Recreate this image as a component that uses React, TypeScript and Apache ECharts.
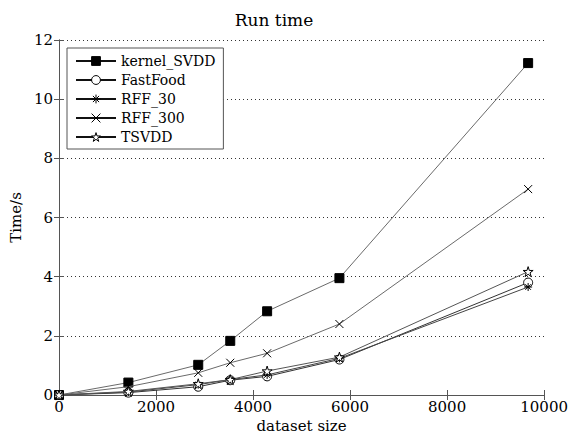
import React, { useEffect, useRef } from 'react';
import * as echarts from 'echarts';

const seriesNames = ['kernel_SVDD', 'FastFood', 'RFF_30', 'RFF_300', 'TSVDD'];
const datasetSizes = [0, 1430, 2870, 3530, 4290, 5780, 9670];
const kernelSVDD = [0, 0.42, 1.02, 1.83, 2.83, 3.95, 11.22];
const fastFood = [0, 0.08, 0.28, 0.5, 0.63, 1.2, 3.8];
const rff30 = [0, 0.1, 0.35, 0.52, 0.68, 1.24, 3.65];
const rff300 = [0, 0.28, 0.75, 1.09, 1.41, 2.4, 6.96];
const tsvdd = [0, 0.12, 0.38, 0.52, 0.81, 1.28, 4.17];
const seriesValues = [kernelSVDD, fastFood, rff30, rff300, tsvdd];

const FONT = 'DejaVu Serif';
const FRAME = '#555';

const STAR = 'path://M5,0L6.123,3.455L9.755,3.455L6.816,5.59L7.939,9.045L5,6.91L2.061,9.045L3.184,5.59L0.245,3.455L3.877,3.455Z';
const ASTER = 'path://M5,0L5,10M0,5L10,5M1.5,1.5L8.5,8.5M8.5,1.5L1.5,8.5';
const CROSS = 'path://M0,0L10,10M10,0L0,10';

const symbolDefs = [
  { symbol: 'rect', size: 9, fill: '#000' },
  { symbol: 'circle', size: 9, fill: '#fff' },
  { symbol: ASTER, size: 8, fill: 'none' },
  { symbol: CROSS, size: 8, fill: 'none' },
  { symbol: STAR, size: 10, fill: '#fff' },
];
const lineColors = ['#6a6a6a', '#333', '#444', '#6a6a6a', '#555'];

export default function App() {
  const ref = useRef<HTMLDivElement>(null);
  useEffect(() => {
    if (!ref.current) return;
    const chart = echarts.init(ref.current, undefined, { renderer: 'svg' });
    const grid = { left: 59, right: 26, top: 40, bottom: 44 };
    const axisCommon = {
      axisLine: { show: true, lineStyle: { color: FRAME, width: 1 } },
      axisTick: { show: true, inside: true, length: 5, lineStyle: { color: FRAME } },
    };
    chart.setOption({
      animation: false,
      backgroundColor: '#fff',
      grid,
      graphic: [
        {
          type: 'text',
          x: 274,
          y: 20,
          style: {
            text: 'Run time',
            font: `17px "${FONT}"`,
            fill: '#000',
            textAlign: 'center',
            textVerticalAlign: 'middle',
          },
        },
      ],
      legend: {
        orient: 'vertical',
        left: 67,
        top: 48,
        padding: [6, 8, 5, 8],
        itemWidth: 40,
        itemHeight: 11,
        itemGap: 5,
        backgroundColor: '#fff',
        borderColor: FRAME,
        borderWidth: 1,
        borderRadius: 0,
        lineStyle: { color: '#111' },
        textStyle: { fontFamily: FONT, fontSize: 14, color: '#000', lineHeight: 14 },
        data: seriesNames.map((name, i) => ({
          name,
          itemStyle: { color: symbolDefs[i].fill, borderColor: '#000', borderWidth: 1 },
        })),
      },
      xAxis: [
        {
          type: 'value',
          min: 0,
          max: 10000,
          interval: 2000,
          position: 'bottom',
          ...axisCommon,
          splitLine: { show: false },
          axisLabel: { fontFamily: FONT, fontSize: 15, color: '#000', margin: 4, formatter: (v: number) => String(v) },
          name: 'dataset size',
          nameLocation: 'middle',
          nameGap: 20,
          nameTextStyle: { fontFamily: FONT, fontSize: 15, color: '#000' },
        },
        {
          type: 'value',
          min: 0,
          max: 10000,
          interval: 2000,
          position: 'top',
          ...axisCommon,
          splitLine: { show: false },
          axisLabel: { show: false },
        },
      ],
      yAxis: [
        {
          type: 'value',
          min: 0,
          max: 12,
          interval: 2,
          position: 'left',
          ...axisCommon,
          splitLine: { show: true, lineStyle: { color: '#333', type: [1, 3], width: 1 } },
          axisLabel: { fontFamily: FONT, fontSize: 15, color: '#000', margin: 6 },
          name: 'Time/s',
          nameLocation: 'middle',
          nameGap: 35,
          nameTextStyle: { fontFamily: FONT, fontSize: 15, color: '#000' },
        },
        {
          type: 'value',
          min: 0,
          max: 12,
          interval: 2,
          position: 'right',
          ...axisCommon,
          splitLine: { show: false },
          axisLabel: { show: false },
        },
      ],
      series: seriesNames.map((name, i) => ({
        name,
        type: 'line',
        xAxisIndex: 0,
        yAxisIndex: 0,
        data: datasetSizes.map((x, j) => [x, seriesValues[i][j]]),
        symbol: symbolDefs[i].symbol,
        symbolSize: symbolDefs[i].size,
        showAllSymbol: true,
        lineStyle: { color: lineColors[i], width: 1 },
        itemStyle: { color: symbolDefs[i].fill, borderColor: '#000', borderWidth: 1 },
        emphasis: { disabled: true },
        z: 3 + i,
      })),
    });
    return () => chart.dispose();
  }, []);
  return (
    <div
      ref={ref}
      style={{ position: 'fixed', left: 0, top: 0, width: 571, height: 439, background: '#fff' }}
    />
  );
}
